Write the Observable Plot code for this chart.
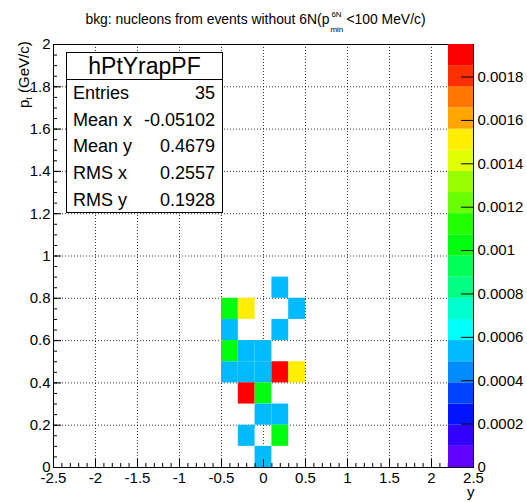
<!DOCTYPE html>
<html><head><meta charset="utf-8">
<script src="https://cdn.jsdelivr.net/npm/d3@7"></script>
<script src="https://cdn.jsdelivr.net/npm/@observablehq/plot@0.6"></script>
<style>
body{margin:0;background:#fff;font-family:"Liberation Sans",Arial,Helvetica,sans-serif;}
#wrap{position:relative;width:527px;height:502px;overflow:hidden;background:#fff;}
#wrap svg{position:absolute;top:0;}
#title{position:absolute;left:-8px;top:11px;width:527px;text-align:center;font-size:13.9px;white-space:nowrap;color:#000;}
.ss{display:inline-block;position:relative;width:17px;height:10px;}
.ss .sup{position:absolute;left:2px;top:-4px;font-size:8px;}
.ss .sub{position:absolute;left:1px;top:11px;font-size:8px;}
#stats{position:absolute;left:66px;top:52px;width:157px;height:161px;border:1px solid #000;background:#fff;box-sizing:border-box;}
#stats .head{height:26px;border-bottom:1px solid #000;text-align:center;font-size:23px;line-height:26px;}
#stats .row{position:relative;height:26.7px;font-size:18px;line-height:26.7px;}
#stats .row .n{position:absolute;left:6px;}
#stats .row .v{position:absolute;right:7px;}
#ytitle{position:absolute;font-size:15px;white-space:nowrap;transform-origin:0 0;transform:rotate(-90deg);left:15px;top:108px;}
#ytitle sub{font-size:9px;vertical-align:-3px;}
#xtitle{position:absolute;font-size:15px;left:467px;top:483px;}
</style></head><body>
<div id="wrap"></div>
<script>
// ---- data ----
const chartTitle = "bkg: nucleons from events without 6N(p";
const titleSup = "6N", titleSub = "min", titleTail = "<100 MeV/c)";
const xTitle = "y";
const yTitleMain = "p", yTitleSub = "t", yTitleTail = " (GeV/c)";
const histName = "hPtYrapPF";
const statNames = ["Entries", "Mean x", "Mean y", "RMS x", "RMS y"];
const statValues = ["35", "-0.05102", "0.4679", "0.2557", "0.1928"];

const xTicks = [-2.5, -2, -1.5, -1, -0.5, 0, 0.5, 1, 1.5, 2, 2.5];
const xTickLabels = ["-2.5", "-2", "-1.5", "-1", "-0.5", "0", "0.5", "1", "1.5", "2", "2.5"];
const yTicks = [0, 0.2, 0.4, 0.6, 0.8, 1, 1.2, 1.4, 1.6, 1.8, 2];
const yTickLabels = ["0", "0.2", "0.4", "0.6", "0.8", "1", "1.2", "1.4", "1.6", "1.8", "2"];
const zTicks = [0, 0.0002, 0.0004, 0.0006, 0.0008, 0.001, 0.0012, 0.0014, 0.0016, 0.0018];
const zTickLabels = ["0", "0.0002", "0.0004", "0.0006", "0.0008", "0.001", "0.0012", "0.0014", "0.0016", "0.0018"];
const xDomain = [-2.5, 2.5], yDomain = [0, 2];
const zMax = 0.00195, nLevels = 20;
const binW = 0.2, binH = 0.1;

// cells: lower-left bin edges and content
const cellX = [0.1, -0.5, -0.3, 0.3, -0.5, 0.1, -0.5, -0.3, -0.1, -0.5, -0.3, -0.1, 0.1, 0.3, -0.3, -0.1, -0.1, 0.1, -0.3, 0.1, -0.1];
const cellY = [0.8, 0.7, 0.7, 0.7, 0.6, 0.6, 0.5, 0.5, 0.5, 0.4, 0.4, 0.4, 0.4, 0.4, 0.3, 0.3, 0.2, 0.2, 0.1, 0.1, 0.0];
const cellZ = [0.00049, 0.00098, 0.00147, 0.00049, 0.00049, 0.00049, 0.00098, 0.00049, 0.00049, 0.00049, 0.00049, 0.00049, 0.00195, 0.00147, 0.00195, 0.00098, 0.00049, 0.00049, 0.00049, 0.00098, 0.00049];

// ---- derived ----
const cells = cellX.map((x, i) => ({x1: x, x2: x + binW, y1: cellY[i], y2: cellY[i] + binH, z: cellZ[i]}));
const levels = d3.range(nLevels).map(i => ({lo: i * zMax / nLevels, hi: (i + 1) * zMax / nLevels, mid: (i + 0.5) * zMax / nLevels}));
const thresholds = levels.slice(1).map(d => d.lo);
// ROOT "pretty" palette (50 colours), sampled for 20 contour levels
const palette = d3.range(nLevels).map(i => {
  const idx = Math.floor((i + 0.99) * 50 / nLevels);
  return d3.hsl(280 - (idx + 1) * 5.6, 1, 0.5).formatHex();
});
const colorScale = {type: "threshold", domain: thresholds, range: palette};

const xLab = new Map(xTicks.map((t, i) => [t, xTickLabels[i]]));
const yLab = new Map(yTicks.map((t, i) => [t, yTickLabels[i]]));
const zLab = new Map(zTicks.map((t, i) => [t, zTickLabels[i]]));
const xMinor = d3.range(-25, 26).map(i => i / 10);
const yMinor = d3.range(0, 41).map(i => i / 20);
const xGrid = xTicks.slice(1, -1), yGrid = yTicks.slice(1, -1);
const font = '"Liberation Sans", Arial, Helvetica, sans-serif';

const main = Plot.plot({
  width: 527, height: 502,
  marginLeft: 53, marginRight: 54, marginTop: 44, marginBottom: 35,
  style: {fontFamily: font, fontSize: "15px", background: "transparent", color: "#000"},
  x: {domain: xDomain},
  y: {domain: yDomain},
  color: colorScale,
  marks: [
    Plot.gridX(xGrid, {stroke: "#000", strokeOpacity: 0.8, strokeDasharray: "1,2"}),
    Plot.gridY(yGrid, {stroke: "#000", strokeOpacity: 0.8, strokeDasharray: "1,2"}),
    Plot.rect(cells, {x1: "x1", x2: "x2", y1: "y1", y2: "y2", fill: "z"}),
    Plot.axisX({ticks: xMinor, tickSize: -4, tickFormat: () => "", stroke: "#000", strokeOpacity: 1}),
    Plot.axisX({ticks: xTicks, tickSize: -8, tickFormat: () => "", stroke: "#000", strokeOpacity: 1}),
    Plot.axisX({ticks: xTicks, tickSize: 0, tickPadding: 5, tickFormat: d => xLab.get(d), fontSize: 15, label: null}),
    Plot.axisY({ticks: yMinor, tickSize: -4, tickFormat: () => "", stroke: "#000", strokeOpacity: 1}),
    Plot.axisY({ticks: yTicks, tickSize: -8, tickFormat: () => "", stroke: "#000", strokeOpacity: 1}),
    Plot.axisY({ticks: yTicks, tickSize: 0, tickPadding: 3, tickFormat: d => yLab.get(d), fontSize: 15, label: null}),
    Plot.frame({stroke: "#000"})
  ]
});

const pal = Plot.plot({
  width: 87, height: 502,
  marginLeft: 8, marginRight: 54, marginTop: 44, marginBottom: 35,
  style: {fontFamily: font, fontSize: "15px", background: "transparent", color: "#000", overflow: "visible"},
  x: {domain: [0, 1], axis: null},
  y: {domain: [0, zMax], axis: null},
  color: colorScale,
  marks: [
    Plot.rect(levels, {y1: "lo", y2: "hi", fill: "mid"}),
    Plot.axisY({anchor: "right", ticks: zTicks, tickSize: -13, tickPadding: 17, tickFormat: d => zLab.get(d), fontSize: 15, label: null, textAnchor: "start"}),
    Plot.frame({anchor: "right", stroke: "#000"})
  ]
});

const wrap = document.getElementById("wrap");
main.style.left = "0px";
pal.style.left = "440px";
wrap.appendChild(main);
wrap.appendChild(pal);

const t = document.createElement("div");
t.id = "title";
t.append(chartTitle);
const ss = document.createElement("span"); ss.className = "ss";
const sup = document.createElement("span"); sup.className = "sup"; sup.textContent = titleSup;
const sub = document.createElement("span"); sub.className = "sub"; sub.textContent = titleSub;
ss.append(sup, sub);
t.append(ss, titleTail);
wrap.appendChild(t);

const st = document.createElement("div"); st.id = "stats";
const head = document.createElement("div"); head.className = "head"; head.textContent = histName;
st.appendChild(head);
statNames.forEach((n, i) => {
  const r = document.createElement("div"); r.className = "row";
  const a = document.createElement("span"); a.className = "n"; a.textContent = n;
  const b = document.createElement("span"); b.className = "v"; b.textContent = statValues[i];
  r.append(a, b); st.appendChild(r);
});
wrap.appendChild(st);

const yt = document.createElement("div"); yt.id = "ytitle";
const ys = document.createElement("sub"); ys.textContent = yTitleSub;
yt.append(yTitleMain, ys, yTitleTail);
wrap.appendChild(yt);

const xt = document.createElement("div"); xt.id = "xtitle"; xt.textContent = xTitle;
wrap.appendChild(xt);
</script>
</body></html>
